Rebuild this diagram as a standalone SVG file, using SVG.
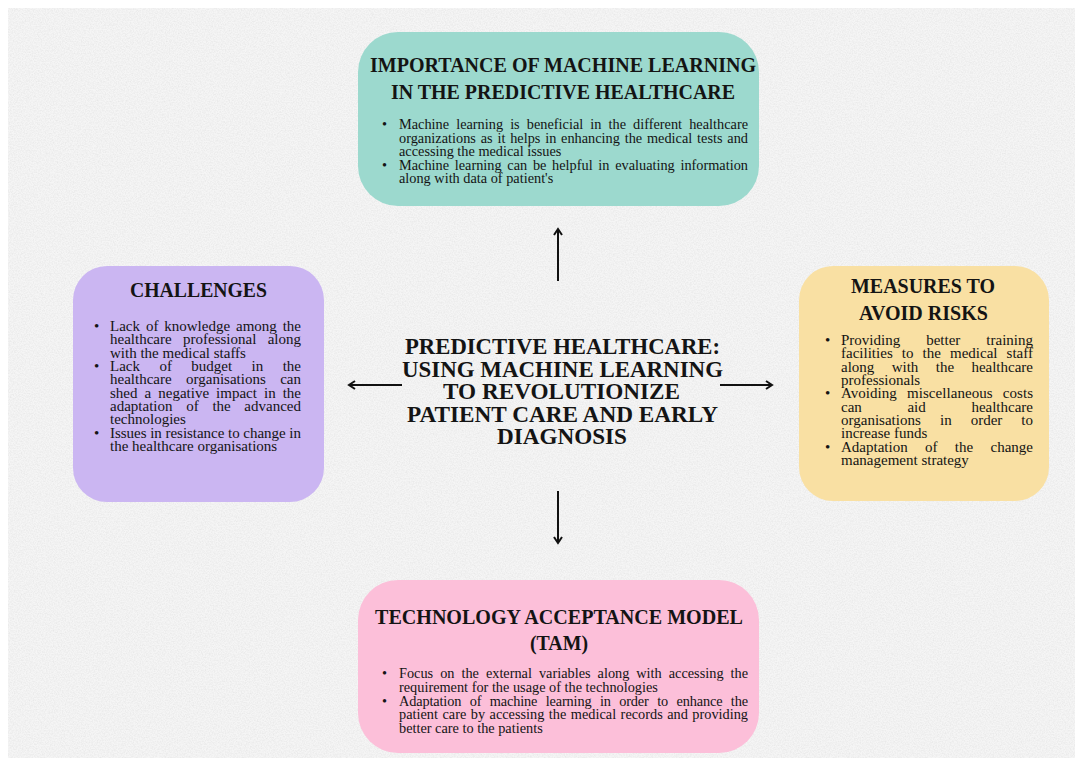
<svg xmlns="http://www.w3.org/2000/svg" width="1075" height="758" viewBox="0 0 1075 758">
  <defs>
    <style>
      .txt { font-family: "Liberation Serif", "Times New Roman", serif; fill: #141414; }
      .body { font-size: 14.3px; }
      .side { font-size: 15px; }
      .title { font-size: 20px; font-weight: bold; }
      .center { font-size: 22.5px; font-weight: bold; }
      .end { text-anchor: end; }
      .conn { stroke: #111; stroke-width: 2; fill: none; marker-end: url(#chev); }
    </style>
    <marker id="chev" viewBox="0 0 10 10" refX="8" refY="5" markerWidth="10" markerHeight="10" markerUnits="userSpaceOnUse" orient="auto">
      <path d="M2,1 L8,5 L2,9" fill="none" stroke="#111" stroke-width="2"/>
    </marker>
    <filter id="grain" x="0" y="0" width="100%" height="100%">
      <feTurbulence type="fractalNoise" baseFrequency="0.75" numOctaves="2" seed="7" result="n"/>
      <feColorMatrix in="n" type="matrix" values="0 0 0 0 0  0 0 0 0 0  0 0 0 0 0  0.1 0 0 0 -0.035"/>
    </filter>
  </defs>

  <!-- page and paper sheet -->
  <rect x="0" y="0" width="1075" height="758" fill="#ffffff"/>
  <rect x="8" y="8" width="1067" height="750" fill="#f5f5f5"/>
  <rect x="8" y="8" width="1067" height="750" filter="url(#grain)"/>

  <!-- connectors from the central title -->
  <g id="connectors">
    <line class="conn" x1="558" y1="281" x2="558" y2="229"/>
    <line class="conn" x1="402" y1="385" x2="349" y2="385"/>
    <line class="conn" x1="720" y1="385" x2="772" y2="385"/>
    <line class="conn" x1="558" y1="491" x2="558" y2="543"/>
  </g>

  <!-- central title -->
  <g id="center-title" class="txt center">
    <text x="405" y="354" textLength="315" lengthAdjust="spacingAndGlyphs">PREDICTIVE HEALTHCARE:</text>
    <text x="402" y="376.5" textLength="321" lengthAdjust="spacingAndGlyphs">USING MACHINE LEARNING</text>
    <text x="443" y="399" textLength="237" lengthAdjust="spacingAndGlyphs">TO REVOLUTIONIZE</text>
    <text x="407" y="421.5" textLength="311" lengthAdjust="spacingAndGlyphs">PATIENT CARE AND EARLY</text>
    <text x="497" y="444" textLength="130" lengthAdjust="spacingAndGlyphs">DIAGNOSIS</text>
  </g>

  <!-- importance of machine learning -->
  <g id="node-importance">
    <rect x="358" y="32" width="401" height="174" rx="40" fill="#9cd9ce"/>
    <g class="txt title">
      <text x="370" y="72" textLength="386" lengthAdjust="spacingAndGlyphs">IMPORTANCE OF MACHINE LEARNING</text>
      <text x="391" y="98.5" textLength="344" lengthAdjust="spacingAndGlyphs">IN THE PREDICTIVE HEALTHCARE</text>
    </g>
    <g class="txt body">
      <text x="382" y="129">•</text>
      <text x="399" y="129" word-spacing="3.5" textLength="349">Machine learning is beneficial in the different healthcare</text>
      <text x="399" y="142.5" word-spacing="1.2" textLength="349">organizations as it helps in enhancing the medical tests and</text>
      <text x="399" y="156">accessing the medical issues</text>
      <text x="382" y="169.5">•</text>
      <text x="399" y="169.5" word-spacing="2.1" textLength="349">Machine learning can be helpful in evaluating information</text>
      <text x="399" y="183">along with data of patient's</text>
    </g>
  </g>

  <!-- challenges -->
  <g id="node-challenges">
    <rect x="73" y="266" width="251" height="236" rx="34" fill="#cbb6f2"/>
    <text class="txt title" x="130" y="297" textLength="137" lengthAdjust="spacingAndGlyphs">CHALLENGES</text>
    <g class="txt side">
      <text x="94" y="331">•</text>
      <text x="110" y="331" word-spacing="2.1" textLength="191">Lack of knowledge among the</text>
      <text x="110" y="344.3">healthcare</text><text x="183" y="344.3">professional</text><text class="end" x="301" y="344.3">along</text>
      <text x="110" y="357.6">with the medical staffs</text>
      <text x="94" y="371">•</text>
      <text x="110" y="371">Lack</text><text x="159.4" y="371">of</text><text x="191.3" y="371">budget</text><text x="251.5" y="371">in</text><text class="end" x="301" y="371">the</text>
      <text x="110" y="384.3">healthcare</text><text x="186" y="384.3">organisations</text><text class="end" x="301" y="384.3">can</text>
      <text x="110" y="397.6" word-spacing="3.3" textLength="191">shed a negative impact in the</text>
      <text x="110" y="410.9">adaptation</text><text x="186.2" y="410.9">of</text><text x="212.4" y="410.9">the</text><text class="end" x="301" y="410.9">advanced</text>
      <text x="110" y="424.2">technologies</text>
      <text x="94" y="437.8">•</text>
      <text x="110" y="437.8" textLength="191">Issues in resistance to change in</text>
      <text x="110" y="451.1">the healthcare organisations</text>
    </g>
  </g>

  <!-- measures to avoid risks -->
  <g id="node-measures">
    <rect x="799" y="266" width="250" height="235" rx="34" fill="#f9e0a3"/>
    <g class="txt title">
      <text x="851" y="293" textLength="144" lengthAdjust="spacingAndGlyphs">MEASURES TO</text>
      <text x="859" y="320" textLength="129" lengthAdjust="spacingAndGlyphs">AVOID RISKS</text>
    </g>
    <g class="txt side">
      <text x="825" y="345">•</text>
      <text x="841" y="345">Providing</text><text x="926.2" y="345">better</text><text class="end" x="1033" y="345">training</text>
      <text x="841" y="358.3" word-spacing="5.3" textLength="192">facilities to the medical staff</text>
      <text x="841" y="371.6">along</text><text x="891.7" y="371.6">with</text><text x="935.8" y="371.6">the</text><text class="end" x="1033" y="371.6">healthcare</text>
      <text x="841" y="384.9">professionals</text>
      <text x="825" y="398.4">•</text>
      <text x="841" y="398.4" word-spacing="6.4" textLength="192">Avoiding miscellaneous costs</text>
      <text x="841" y="411.7">can</text><text x="907.4" y="411.7">aid</text><text class="end" x="1033" y="411.7">healthcare</text>
      <text x="841" y="425">organisations</text><text x="940" y="425">in</text><text x="970.7" y="425">order</text><text class="end" x="1033" y="425">to</text>
      <text x="841" y="438.3">increase funds</text>
      <text x="825" y="452">•</text>
      <text x="841" y="452">Adaptation</text><text x="925" y="452">of</text><text x="954.8" y="452">the</text><text class="end" x="1033" y="452">change</text>
      <text x="841" y="465.3">management strategy</text>
    </g>
  </g>

  <!-- technology acceptance model -->
  <g id="node-tam">
    <rect x="358" y="580" width="401" height="173" rx="40" fill="#fcbfd9"/>
    <g class="txt title">
      <text x="375" y="624" textLength="368" lengthAdjust="spacingAndGlyphs">TECHNOLOGY ACCEPTANCE MODEL</text>
      <text x="530" y="650" textLength="58" lengthAdjust="spacingAndGlyphs">(TAM)</text>
    </g>
    <g class="txt body">
      <text x="382" y="678">•</text>
      <text x="399" y="678" word-spacing="3.4" textLength="349">Focus on the external variables along with accessing the</text>
      <text x="399" y="691.5">requirement for the usage of the technologies</text>
      <text x="382" y="705.5">•</text>
      <text x="399" y="705.5" word-spacing="5" textLength="349">Adaptation of machine learning in order to enhance the</text>
      <text x="399" y="719" word-spacing="0.9" textLength="349">patient care by accessing the medical records and providing</text>
      <text x="399" y="732.5">better care to the patients</text>
    </g>
  </g>
</svg>
